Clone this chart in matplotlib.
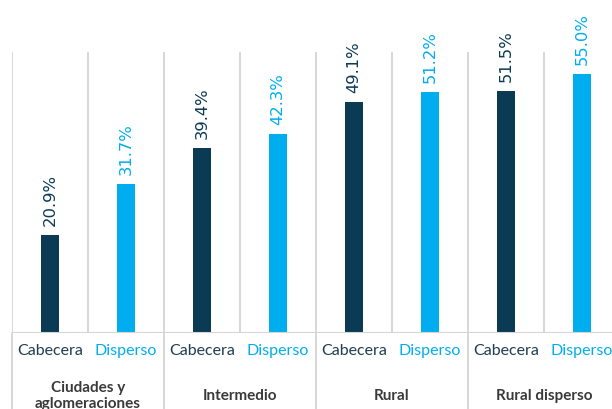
import matplotlib.pyplot as plt
from matplotlib.transforms import blended_transform_factory
from matplotlib.lines import Line2D

plt.rcParams['font.family'] = ['Lato', 'DejaVu Sans']

groups = ['Ciudades y\naglomeraciones', 'Intermedio', 'Rural', 'Rural disperso']
series = ['Cabecera', 'Disperso']
cabecera = [20.9, 39.4, 49.1, 51.5]
disperso = [31.7, 42.3, 51.2, 55.0]

NAVY = '#0b3a55'
BLUE = '#00aeef'
GRID = '#d4d4d4'

W, H = 612, 409
fig = plt.figure(figsize=(W / 100, H / 100), dpi=100)
# axes spans from x=12 px to 620 px (cut by the figure edge), y 52..333 px
ax = fig.add_axes([12 / W, (H - 333) / H, 608 / W, 281 / H])

values = []
colors = []
labels = []
for c, d in zip(cabecera, disperso):
    values += [c, d]
    colors += [NAVY, BLUE]
    labels += series
xs = list(range(len(values)))

ax.bar(xs, values, width=0.24, color=colors, zorder=3)
ax.set_xlim(-0.5, len(values) - 0.5)
ax.set_ylim(0, 59.7)

for x, v, col in zip(xs, values, colors):
    ax.annotate(f'{v:.1f}%', (x, v), xytext=(0, 6.5), textcoords='offset points',
                rotation=90, ha='center', va='bottom', color=col,
                family='DejaVu Sans', fontsize=11.8)

# slot separators
for b in range(len(values) + 1):
    ax.axvline(b - 0.5, color=GRID, lw=1.3, zorder=1)
ax.axhline(0, color=GRID, lw=1.5, zorder=4)

for s in ax.spines.values():
    s.set_visible(False)
ax.set_yticks([])
ax.set_xticks(xs)
ax.set_xticklabels(labels, fontsize=11.5)
ax.tick_params(axis='x', length=0, pad=8)
for t, col in zip(ax.get_xticklabels(), colors):
    t.set_color('#1e3d52' if col == NAVY else BLUE)

tr = blended_transform_factory(ax.transData, ax.transAxes)
for g in range(len(groups) + 1):
    ax.add_line(Line2D([2 * g - 0.5, 2 * g - 0.5], [0, -0.3], transform=tr,
                       color=GRID, lw=1.3, clip_on=False))
for g, name in enumerate(groups):
    ax.text(2 * g + 0.5, -0.224, name, transform=tr, ha='center', va='center',
            fontsize=11, fontweight='bold', color='#3a3a3a', linespacing=1.25)

fig.savefig('out.png', dpi=100)
